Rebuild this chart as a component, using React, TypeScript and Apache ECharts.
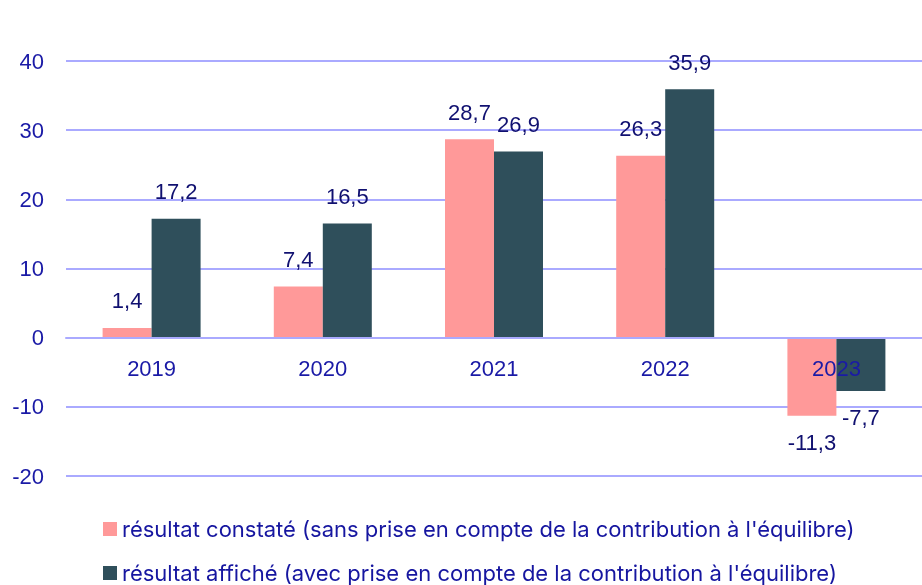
import React, { useEffect, useRef } from "react";
import * as echarts from "echarts";

const categories = ["2019", "2020", "2021", "2022", "2023"];
const constate = [1.4, 7.4, 28.7, 26.3, -11.3];
const affiche = [17.2, 16.5, 26.9, 35.9, -7.7];
const seriesNames = [
  "résultat constaté (sans prise en compte de la contribution à l'équilibre)",
  "résultat affiché (avec prise en compte de la contribution à l'équilibre)",
];
const yTicks = { min: -20, max: 40, interval: 10 };

const fmt = (v: number) => v.toFixed(1).replace(".", ",");
const FONT = "'Liberation Sans', Arial, sans-serif";

function mk(values: number[]) {
  return values.map((v) => ({
    value: v,
    label: { position: v < 0 ? "bottom" : "top" },
  }));
}

export default function App() {
  const ref = useRef<HTMLDivElement>(null);
  useEffect(() => {
    const chart = echarts.init(ref.current!, undefined, { renderer: "svg" });
    const labelStyle = {
      show: true,
      distance: 16,
      fontSize: 22,
      fontFamily: FONT,
      color: "#101070",
      formatter: (p: any) => fmt(p.value),
    };
    const H = 585;
    const top = 61;
    const bottom = 109;
    const plotH = H - top - bottom;
    const zeroOffset = -(plotH * (0 - yTicks.min)) / (yTicks.max - yTicks.min);
    const legendText = {
      fontSize: 22,
      lineHeight: 22,
      fontFamily: "Inter, sans-serif",
      color: "#1616a0",
      padding: [0, 0, 0, 0],
    };
    chart.setOption({
      animation: false,
      grid: { left: 66, right: 0, top, bottom, containLabel: false },
      legend: [
        {
          left: 103,
          top: 518,
          padding: 0,
          itemWidth: 14,
          itemHeight: 14,
          icon: "rect",
          textStyle: legendText,
          data: [seriesNames[0]],
        },
        {
          left: 103,
          top: 562,
          padding: 0,
          itemWidth: 14,
          itemHeight: 14,
          icon: "rect",
          textStyle: legendText,
          data: [seriesNames[1]],
        },
      ],
      xAxis: {
        type: "category",
        data: categories,
        z: 5,
        offset: zeroOffset,
        axisLine: { show: true, onZero: false, lineStyle: { color: "#aaaaff", width: 2 } },
        axisTick: { show: false },
        axisLabel: { fontSize: 22, color: "#1a1aa6", margin: 20, fontFamily: FONT },
      },
      yAxis: {
        type: "value",
        min: yTicks.min,
        max: yTicks.max,
        interval: yTicks.interval,
        axisLine: { show: false },
        axisTick: { show: false },
        splitLine: { lineStyle: { color: "#aaaaff", width: 2 } },
        axisLabel: { fontSize: 22, color: "#1a1aa6", margin: 22, fontFamily: FONT },
      },
      series: [
        {
          name: seriesNames[0],
          type: "bar",
          data: mk(constate),
          itemStyle: { color: "#ff9999" },
          barWidth: 49,
          barGap: "0%",
          label: labelStyle,
        },
        {
          name: seriesNames[1],
          type: "bar",
          data: mk(affiche),
          itemStyle: { color: "#2f4f5b" },
          barWidth: 49,
          barGap: "0%",
          label: labelStyle,
        },
      ],
    });
    return () => chart.dispose();
  }, []);
  return <div ref={ref} style={{ position: "fixed", left: 0, top: 0, width: 922, height: 585 }} />;
}
